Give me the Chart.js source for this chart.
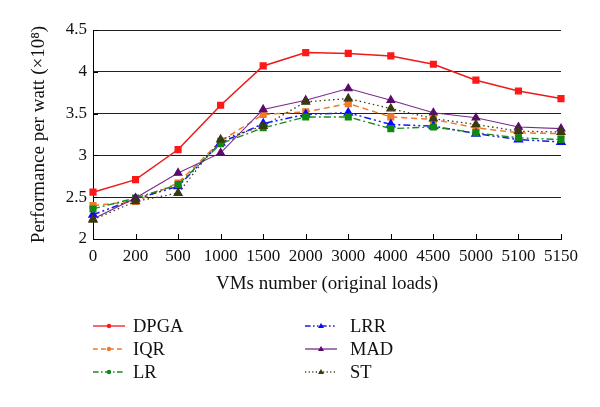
<!DOCTYPE html>
<html><head><meta charset="utf-8">
<script src="https://cdn.jsdelivr.net/npm/chart.js@4.4.1/dist/chart.umd.min.js"></script>
<style>html,body{margin:0;padding:0;background:#fff}#wrap{width:600px;height:407px}</style>
</head><body><div id="wrap"><canvas id="c" width="600" height="407"></canvas></div>
<script>
const categories = ['0','200','500','1000','1500','2000','3000','4000','4500','5000','5100','5150'];
const yTickLabels = ['2','2.5','3','3.5','4','4.5'];
const DPGA = [2.56,2.71,3.07,3.60,4.07,4.23,4.22,4.19,4.09,3.90,3.77,3.68];
const IQR  = [2.40,2.45,2.67,3.17,3.49,3.52,3.62,3.46,3.43,3.33,3.27,3.26];
const LR   = [2.36,2.49,2.65,3.14,3.33,3.46,3.46,3.32,3.34,3.27,3.21,3.19];
const LRR  = [2.29,2.48,2.63,3.15,3.38,3.49,3.51,3.37,3.35,3.26,3.19,3.16];
const MAD  = [2.24,2.49,2.79,3.03,3.55,3.66,3.80,3.66,3.51,3.45,3.34,3.32];
const ST   = [2.23,2.45,2.55,3.19,3.35,3.64,3.68,3.56,3.44,3.37,3.29,3.28];

const SERIF = '"Liberation Serif","DejaVu Serif",serif';
function ds(label, data, color, mcolor, dash, style, width, radius){
  return {label, data, borderColor: color, backgroundColor: mcolor, pointBorderColor: mcolor,
    borderDash: dash, borderWidth: width, pointStyle: style, pointRadius: radius, pointHoverRadius: radius,
    tension: 0, fill: false};
}
const datasets = [
  ds('ST',   ST,   '#3c3c18', '#3a3a10', [1.5,3], 'triangle', 1.3, 4.5),
  ds('MAD',  MAD,  '#7a2a8a', '#5a0a6a', [], 'triangle', 1.1, 4.5),
  ds('LR',   LR,   '#1e8a1e', '#118811', [7,3,2,3], 'rect', 1.4, 4),
  ds('LRR',  LRR,  '#1a1aee', '#0a0aff', [7,3,2,3,2,3], 'triangle', 1.5, 4.5),
  ds('IQR',  IQR,  '#ee7a2a', '#ef7a28', [6,4], 'rect', 1.5, 4),
  ds('DPGA', DPGA, '#ee1a1a', '#ff1818', [], 'rect', 1.5, 4),
];
const legendLayout = {
  'DPGA':[93,326,40],'IQR':[93,349,40],'LR':[93,372,40],
  'LRR':[305,326,45],'MAD':[305,349,45],'ST':[305,372,45]
};

const inwardTicks = {
  id:'inwardTicks',
  afterDatasetsDraw(chart){
    const {ctx, chartArea:a, scales:{x,y}} = chart;
    ctx.save(); ctx.strokeStyle='#000'; ctx.lineWidth=1;
    ctx.beginPath();
    for(let i=0;i<x.ticks.length;i++){const px=Math.round(x.getPixelForTick(i))+0.5;ctx.moveTo(px,a.bottom);ctx.lineTo(px,a.bottom-5);}
    for(let i=0;i<y.ticks.length;i++){const py=Math.round(y.getPixelForTick(i))+0.5;ctx.moveTo(a.left,py);ctx.lineTo(a.left+5,py);}
    ctx.stroke(); ctx.restore();
  }
};
const customLegend = {
  id:'customLegend',
  afterDraw(chart){
    const ctx = chart.ctx;
    ctx.save();
    chart.data.datasets.forEach(d=>{
      const [lx,ly,tx] = legendLayout[d.label];
      ctx.strokeStyle=d.borderColor; ctx.lineWidth=1.3;
      ctx.setLineDash(d.borderDash.length? d.borderDash.map(v=>v*0.8):[]);
      ctx.beginPath(); ctx.moveTo(lx,ly); ctx.lineTo(lx+32,ly); ctx.stroke();
      ctx.setLineDash([]);
      ctx.fillStyle=d.backgroundColor;
      ctx.beginPath();
      if(d.pointStyle==='triangle'){ctx.moveTo(lx+16,ly-3);ctx.lineTo(lx+19,ly+2);ctx.lineTo(lx+13,ly+2);ctx.closePath();}
      else {ctx.arc(lx+16,ly,2.2,0,Math.PI*2);}
      ctx.fill();
      ctx.fillStyle='#111'; ctx.font='18.5px '+SERIF; ctx.textBaseline='middle'; ctx.textAlign='left';
      ctx.fillText(d.label, lx+tx, ly+1);
    });
    ctx.restore();
  }
};

new Chart(document.getElementById('c'), {
  type:'line',
  data:{labels:categories, datasets},
  options:{
    responsive:false, animation:false, devicePixelRatio:1,
    layout:{padding:{left:0,right:39,top:30,bottom:108}},
    plugins:{legend:{display:false}, tooltip:{enabled:false}},
    scales:{
      x:{
        offset:false,
        grid:{display:false, drawTicks:false},
        border:{display:true,color:'#000',width:1},
        ticks:{color:'#111',font:{family:SERIF,size:17},padding:7,maxRotation:0,autoSkip:false},
        title:{display:true,text:'VMs number (original loads)',color:'#111',font:{family:SERIF,size:19},padding:{top:4,bottom:4}},
        afterFit(s){s.height=60;}
      },
      y:{
        min:2,max:4.5,
        grid:{color:'#222',lineWidth:1,drawTicks:false,borderDash:[1,8.5]},
        border:{display:true,color:'#000',width:1},
        ticks:{stepSize:0.5,color:'#111',font:{family:SERIF,size:17},padding:6,
          callback:(v,i)=>yTickLabels[i]},
        title:{display:true,text:'Performance per watt (\u00d710\u2078)',color:'#111',font:{family:SERIF,size:19},padding:{top:28,bottom:0}},
        afterFit(s){s.width=93;}
      }
    }
  },
  plugins:[inwardTicks, customLegend]
});
</script></body></html>
